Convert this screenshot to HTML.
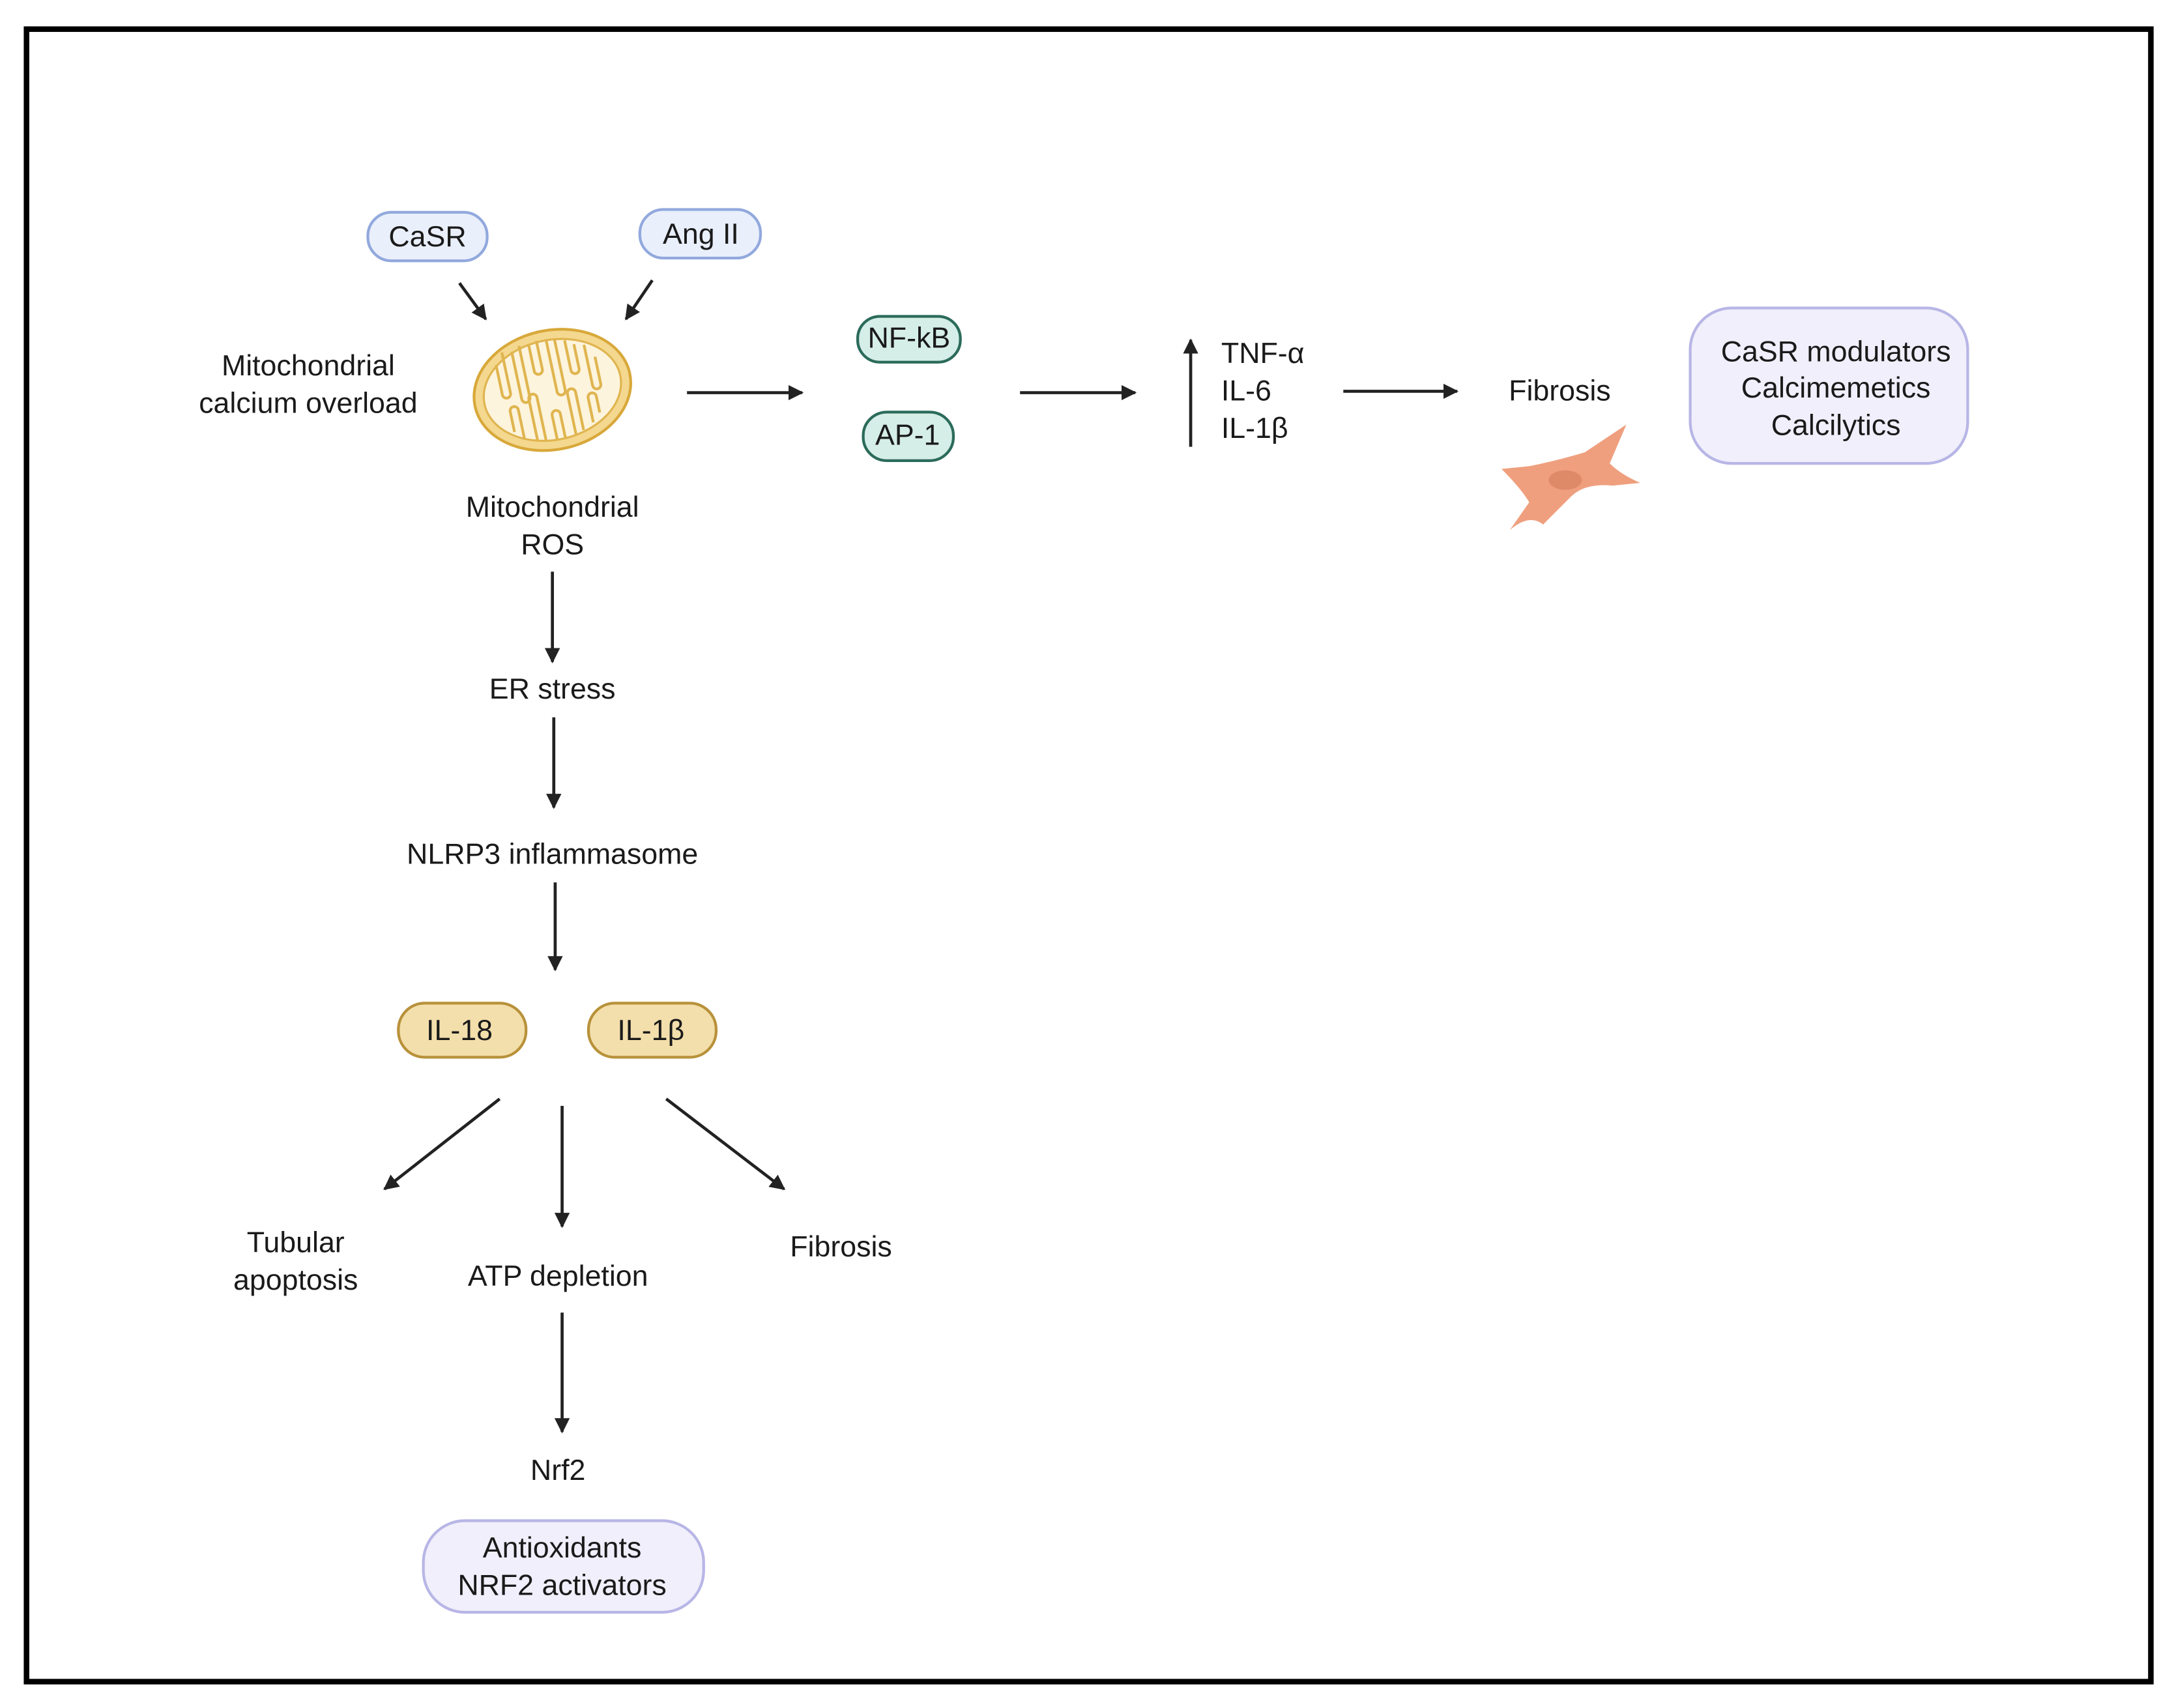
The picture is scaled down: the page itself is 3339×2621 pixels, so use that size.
<!DOCTYPE html>
<html><head><meta charset="utf-8"><style>
html,body{margin:0;padding:0;background:#fff;}
svg{display:block;}
text{font-family:"Liberation Sans",sans-serif;font-size:21px;fill:#1a1a1a;text-anchor:middle;dominant-baseline:middle;}
</style></head><body>
<svg width="3339" height="2621" viewBox="0 0 1568 1231" xmlns="http://www.w3.org/2000/svg">
<defs>
<marker id="a" viewBox="0 0 10 10" refX="9" refY="5" markerWidth="5" markerHeight="5" orient="auto"><path d="M0,0 L10,5 L0,10 z" fill="#222"/></marker>
</defs>
<rect x="0" y="0" width="1568" height="1231" fill="#fff"/>
<rect x="19" y="21" width="1531" height="1191" fill="none" stroke="#000" stroke-width="4"/>
<g stroke="#222" stroke-width="2.2" fill="none" marker-end="url(#a)">
<line x1="331" y1="204" x2="350" y2="230"/>
<line x1="470" y1="202" x2="451" y2="230"/>
<line x1="495" y1="283" x2="578" y2="283"/>
<line x1="735" y1="283" x2="818" y2="283"/>
<line x1="858" y1="322" x2="858" y2="245"/>
<line x1="968" y1="282" x2="1050" y2="282"/>
<line x1="398" y1="412" x2="398" y2="477"/>
<line x1="399" y1="517" x2="399" y2="582"/>
<line x1="400" y1="636" x2="400" y2="699"/>
<line x1="360" y1="792" x2="277" y2="857"/>
<line x1="405" y1="797" x2="405" y2="884"/>
<line x1="480" y1="792" x2="565" y2="857"/>
<line x1="405" y1="946" x2="405" y2="1032"/>
</g>
<g transform="translate(0,1)">
<rect x="265" y="152" width="86" height="35" rx="17" fill="#e9effb" stroke="#92a9dd" stroke-width="2"/>
<text x="308" y="171">CaSR</text>
<rect x="461" y="150" width="87" height="35" rx="17" fill="#e9effb" stroke="#92a9dd" stroke-width="2"/>
<text x="505" y="169">Ang II</text>
</g>
<g transform="rotate(-12 398 281)">
<ellipse cx="398" cy="281" rx="57" ry="43" fill="#f4d88f" stroke="#d8a83a" stroke-width="2"/>
<ellipse cx="398" cy="281" rx="50" ry="36" fill="#fdf4dd" stroke="#e0b550" stroke-width="1.5"/>
<path d="M362,255 v22 a3,3 0 0 0 6,0 v-30 M375,248 v35 a3,3 0 0 0 6,0 v-38 M388,245 v20 a3,3 0 0 0 6,0 v-21 M401,245 v38 a3,3 0 0 0 6,0 v-37 M414,248 v22 a3,3 0 0 0 6,0 v-18 M427,254 v30 a3,3 0 0 0 6,0 v-20
M365,305 v-15 a3,3 0 0 1 6,0 v22 M380,314 v-30 a3,3 0 0 1 6,0 v32 M394,317 v-18 a3,3 0 0 1 6,0 v18 M408,316 v-30 a3,3 0 0 1 6,0 v28 M422,310 v-18 a3,3 0 0 1 6,0 v12" fill="none" stroke="#e0b550" stroke-width="2"/>
</g>
<g transform="translate(0,1)">
<text x="222" y="264">Mitochondrial</text>
<text x="222" y="291">calcium overload</text>
<text x="398" y="366">Mitochondrial</text>
<text x="398" y="393">ROS</text>
</g>
<rect x="618" y="228" width="74" height="33" rx="16" fill="#d5eee7" stroke="#2b6b5a" stroke-width="2"/>
<text x="655" y="245">NF-kB</text>
<rect x="622" y="297" width="65" height="35" rx="17" fill="#d5eee7" stroke="#2b6b5a" stroke-width="2"/>
<text x="654" y="315">AP-1</text>
<text x="880" y="256" style="text-anchor:start">TNF-α</text>
<text x="880" y="283" style="text-anchor:start">IL-6</text>
<text x="880" y="310" style="text-anchor:start">IL-1β</text>
<text x="1124" y="283">Fibrosis</text>
<g fill="#ef9f7e">
<path d="M1082,338 l20,-2 q20,-4 40,-10 l30,-20 -12,28 q8,8 22,14 l-20,2 q-20,-2 -30,8 l-20,20 q-10,-8 -24,4 l14,-20 q-6,-10 -20,-24 z"/>
<ellipse cx="1128" cy="346" rx="12" ry="7" fill="#de8a68"/>
</g>
<rect x="1218" y="222" width="200" height="112" rx="30" fill="#f0effb" stroke="#b8b6e6" stroke-width="2"/>
<text x="1323" y="255">CaSR modulators</text>
<text x="1323" y="281">Calcimemetics</text>
<text x="1323" y="308">Calcilytics</text>
<text x="398" y="498">ER stress</text>
<text x="398" y="617">NLRP3 inflammasome</text>
<rect x="287" y="723" width="92" height="39" rx="19" fill="#f3dfab" stroke="#b8913a" stroke-width="2"/>
<text x="331" y="744">IL-18</text>
<rect x="424" y="723" width="92" height="39" rx="19" fill="#f3dfab" stroke="#b8913a" stroke-width="2"/>
<text x="469" y="744">IL-1β</text>
<text x="213" y="897">Tubular</text>
<text x="213" y="924">apoptosis</text>
<text x="402" y="921">ATP depletion</text>
<text x="606" y="900">Fibrosis</text>
<text x="402" y="1061">Nrf2</text>
<rect x="305" y="1096" width="202" height="66" rx="30" fill="#f0effb" stroke="#b8b6e6" stroke-width="2"/>
<text x="405" y="1117">Antioxidants</text>
<text x="405" y="1144">NRF2 activators</text>
</svg>
</body></html>
